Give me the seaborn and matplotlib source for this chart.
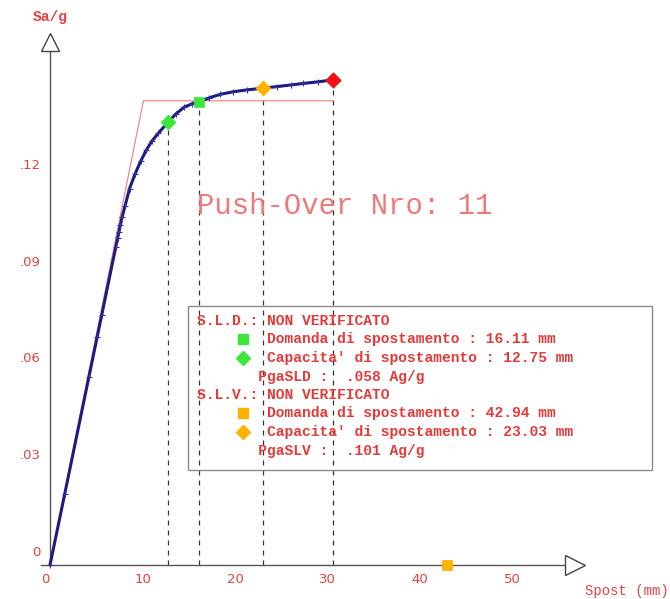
import matplotlib
matplotlib.use("Agg")
import matplotlib.pyplot as plt
import seaborn as sns
import numpy as np

# ---------------- data ----------------
disp = [0, 1.6, 4.2, 5.1, 5.6, 7.1, 7.3, 7.45, 7.6, 7.8, 8.1, 8.6, 9.2, 9.8,
        10.4, 11.0, 11.7, 12.75, 13.6, 14.5, 15.3, 16.11, 17.2, 18.4, 19.8,
        21.3, 23.03, 24.5, 26.0, 27.4, 29.0, 30.6]
sa = [0, 0.0222, 0.0584, 0.0709, 0.0778, 0.0987, 0.1015, 0.1035, 0.1056,
      0.1082, 0.1115, 0.1170, 0.1216, 0.1255, 0.1289, 0.1317, 0.1342, 0.1376,
      0.1402, 0.1423, 0.1433, 0.1440, 0.1452, 0.1463, 0.1471, 0.1477, 0.1482,
      0.1487, 0.1492, 0.1497, 0.1502, 0.1508]

bilin_x = [0, 10.1, 30.6]
bilin_y = [0, 0.1443, 0.1443]

# characteristic points: capacity SLD, demand SLD, capacity SLV, ultimate
pt_x = [12.75, 16.11, 23.03, 30.6]
pt_y = [0.1376, 0.1440, 0.1482, 0.1508]
pt_marker = ["D", "s", "D", "D"]
pt_color = ["#3de63d", "#3de63d", "#ffb300", "#f01010"]
pt_size = [58, 52, 58, 62]

demand_slv_x = [42.94]
demand_slv_y = [0.0]

x_labels = [0, 10, 20, 30, 40, 50]
x_minor = [5, 15, 25, 35, 45]
y_labels = [0, 0.03, 0.06, 0.09, 0.12]
y_label_txt = ["0", ".03", ".06", ".09", ".12"]
y_minor = [0.015, 0.045, 0.075, 0.105, 0.135]

title = "Push-Over Nro: 11"
box_lines = [
    "S.L.D.: NON VERIFICATO",
    "        Domanda di spostamento : 16.11 mm",
    "        Capacita' di spostamento : 12.75 mm",
    "       PgaSLD :  .058 Ag/g",
    "S.L.V.: NON VERIFICATO",
    "        Domanda di spostamento : 42.94 mm",
    "        Capacita' di spostamento : 23.03 mm",
    "       PgaSLV :  .101 Ag/g",
]
box_icons = [None, ("s", "#3de63d"), ("D", "#3de63d"), None,
             None, ("s", "#ffb300"), ("D", "#ffb300"), None]

# ---------------- figure ----------------
sns.set_style("white")
plt.rcParams["font.family"] = ["DejaVu Sans"]

W, H = 670, 599
fig = plt.figure(figsize=(W / 100, H / 100), dpi=100)
ax = fig.add_axes([0, 0, 1, 1])
ax.set_facecolor("white")

PXMM = 9.25
PXG = 3217.0
ox, oy = 50, 565
ax.set_xlim(-ox / PXMM, (W - ox) / PXMM)
ax.set_ylim(-(H - oy) / PXG, oy / PXG)

axis_col = "#555555"
red_txt = "#e84040"

# spines as axes through origin
for s in ["top", "right"]:
    ax.spines[s].set_visible(False)
ax.spines["left"].set_position(("data", 0))
ax.spines["bottom"].set_position(("data", 0))
ax.spines["left"].set_bounds(0, (oy - 50) / PXG)
ax.spines["bottom"].set_bounds(-1.0, (565.5 - ox) / PXMM)
for s in ["left", "bottom"]:
    ax.spines[s].set_color(axis_col)
    ax.spines[s].set_linewidth(1.0)

# arrow heads
ax.plot([0], [(oy - 41.5) / PXG], marker="^", ms=13, mfc="white",
        mec="#444444", mew=1.0, clip_on=False, zorder=5)
ax.plot([(575 - ox) / PXMM], [0], marker=">", ms=14, mfc="white",
        mec="#444444", mew=1.0, clip_on=False, zorder=5)

# ticks
ax.set_xticks(x_labels)
ax.set_xticklabels([str(v) for v in x_labels])
ax.set_xticks(x_minor, minor=True)
ax.tick_params(axis="x", which="major", direction="inout", length=5,
               width=1, color=axis_col, pad=3, labelsize=9.5,
               labelcolor=red_txt)
ax.tick_params(axis="x", which="minor", direction="out", length=13,
               width=1, color=axis_col)
ax.get_xticklabels()[0].set_horizontalalignment("right")
ax.set_yticks([v for v in y_labels if v > 0])
ax.set_yticklabels([])
ax.set_yticks(y_minor, minor=True)
ax.tick_params(axis="y", which="major", direction="out", length=6,
               width=1, color=axis_col)
ax.tick_params(axis="y", which="minor", direction="out", length=13,
               width=1, color=axis_col)
for v, t in zip(y_labels, y_label_txt):
    ax.annotate(t, xy=(0, v), xytext=(-9, 13), textcoords="offset pixels",
                ha="right", va="center", fontsize=9.5, color=red_txt)

# bilinear (red)
sns.lineplot(x=bilin_x, y=bilin_y, ax=ax, color="#f08a8a", lw=0.9,
             sort=False, zorder=2)

# dashed verticals
ax.vlines(pt_x, 0, pt_y, colors="#333333", linestyles=(0, (4, 4)),
          lw=0.9, zorder=1)

# capacity curve
sns.lineplot(x=disp, y=sa, ax=ax, color="#1c1c80", lw=2.2, marker="+",
             ms=5, markeredgecolor="#3030a0", markeredgewidth=0.8,
             sort=False, zorder=3)

# characteristic points
for x, y, m, c, s in zip(pt_x, pt_y, pt_marker, pt_color, pt_size):
    sns.scatterplot(x=[x], y=[y], ax=ax, marker=m, color=c, s=s,
                    edgecolor=c, linewidth=0.5, zorder=6)
sns.scatterplot(x=demand_slv_x, y=demand_slv_y, ax=ax, marker="s",
                color="#ffb300", s=50, edgecolor="#ffb300", zorder=6,
                clip_on=False)

# axis titles
ax.text(50 / W, 1 - 17 / H, "Sa/g", transform=ax.transAxes, ha="center",
        va="center", fontsize=10.5, fontweight="bold", color=red_txt,
        family="Liberation Mono")
ax.text(585 / W, 1 - 591 / H, "Spost (mm)", transform=ax.transAxes,
        ha="left", va="center", fontsize=10, color=red_txt,
        family="Liberation Mono")

# title
ax.text(197 / W, 1 - 206 / H, title, transform=ax.transAxes, ha="left",
        va="center", fontsize=20.8, color="#f07878",
        family="Liberation Mono")

# info box
from matplotlib.patches import Rectangle
ax.add_patch(Rectangle((188 / W, 1 - 470 / H), 464 / W, 164 / H,
                       transform=ax.transAxes, fill=False,
                       edgecolor="#8a8a8a", lw=1.0, zorder=4))
row_y = [320.7, 339.3, 357.7, 376.7, 394.8, 413.3, 431.7, 450.7]
for ln, ry, ic in zip(box_lines, row_y, box_icons):
    ax.text(197 / W, 1 - ry / H, ln, transform=ax.transAxes, ha="left",
            va="center", fontsize=10.5, fontweight="bold",
            color="#e43a3a", family="Liberation Mono", zorder=7)
    if ic is not None:
        ax.plot([243 / W], [1 - ry / H], marker=ic[0], color=ic[1],
                ms=7 if ic[0] == "s" else 7, mec=ic[1],
                transform=ax.transAxes, zorder=7)

fig.savefig("out.png", dpi=100)
